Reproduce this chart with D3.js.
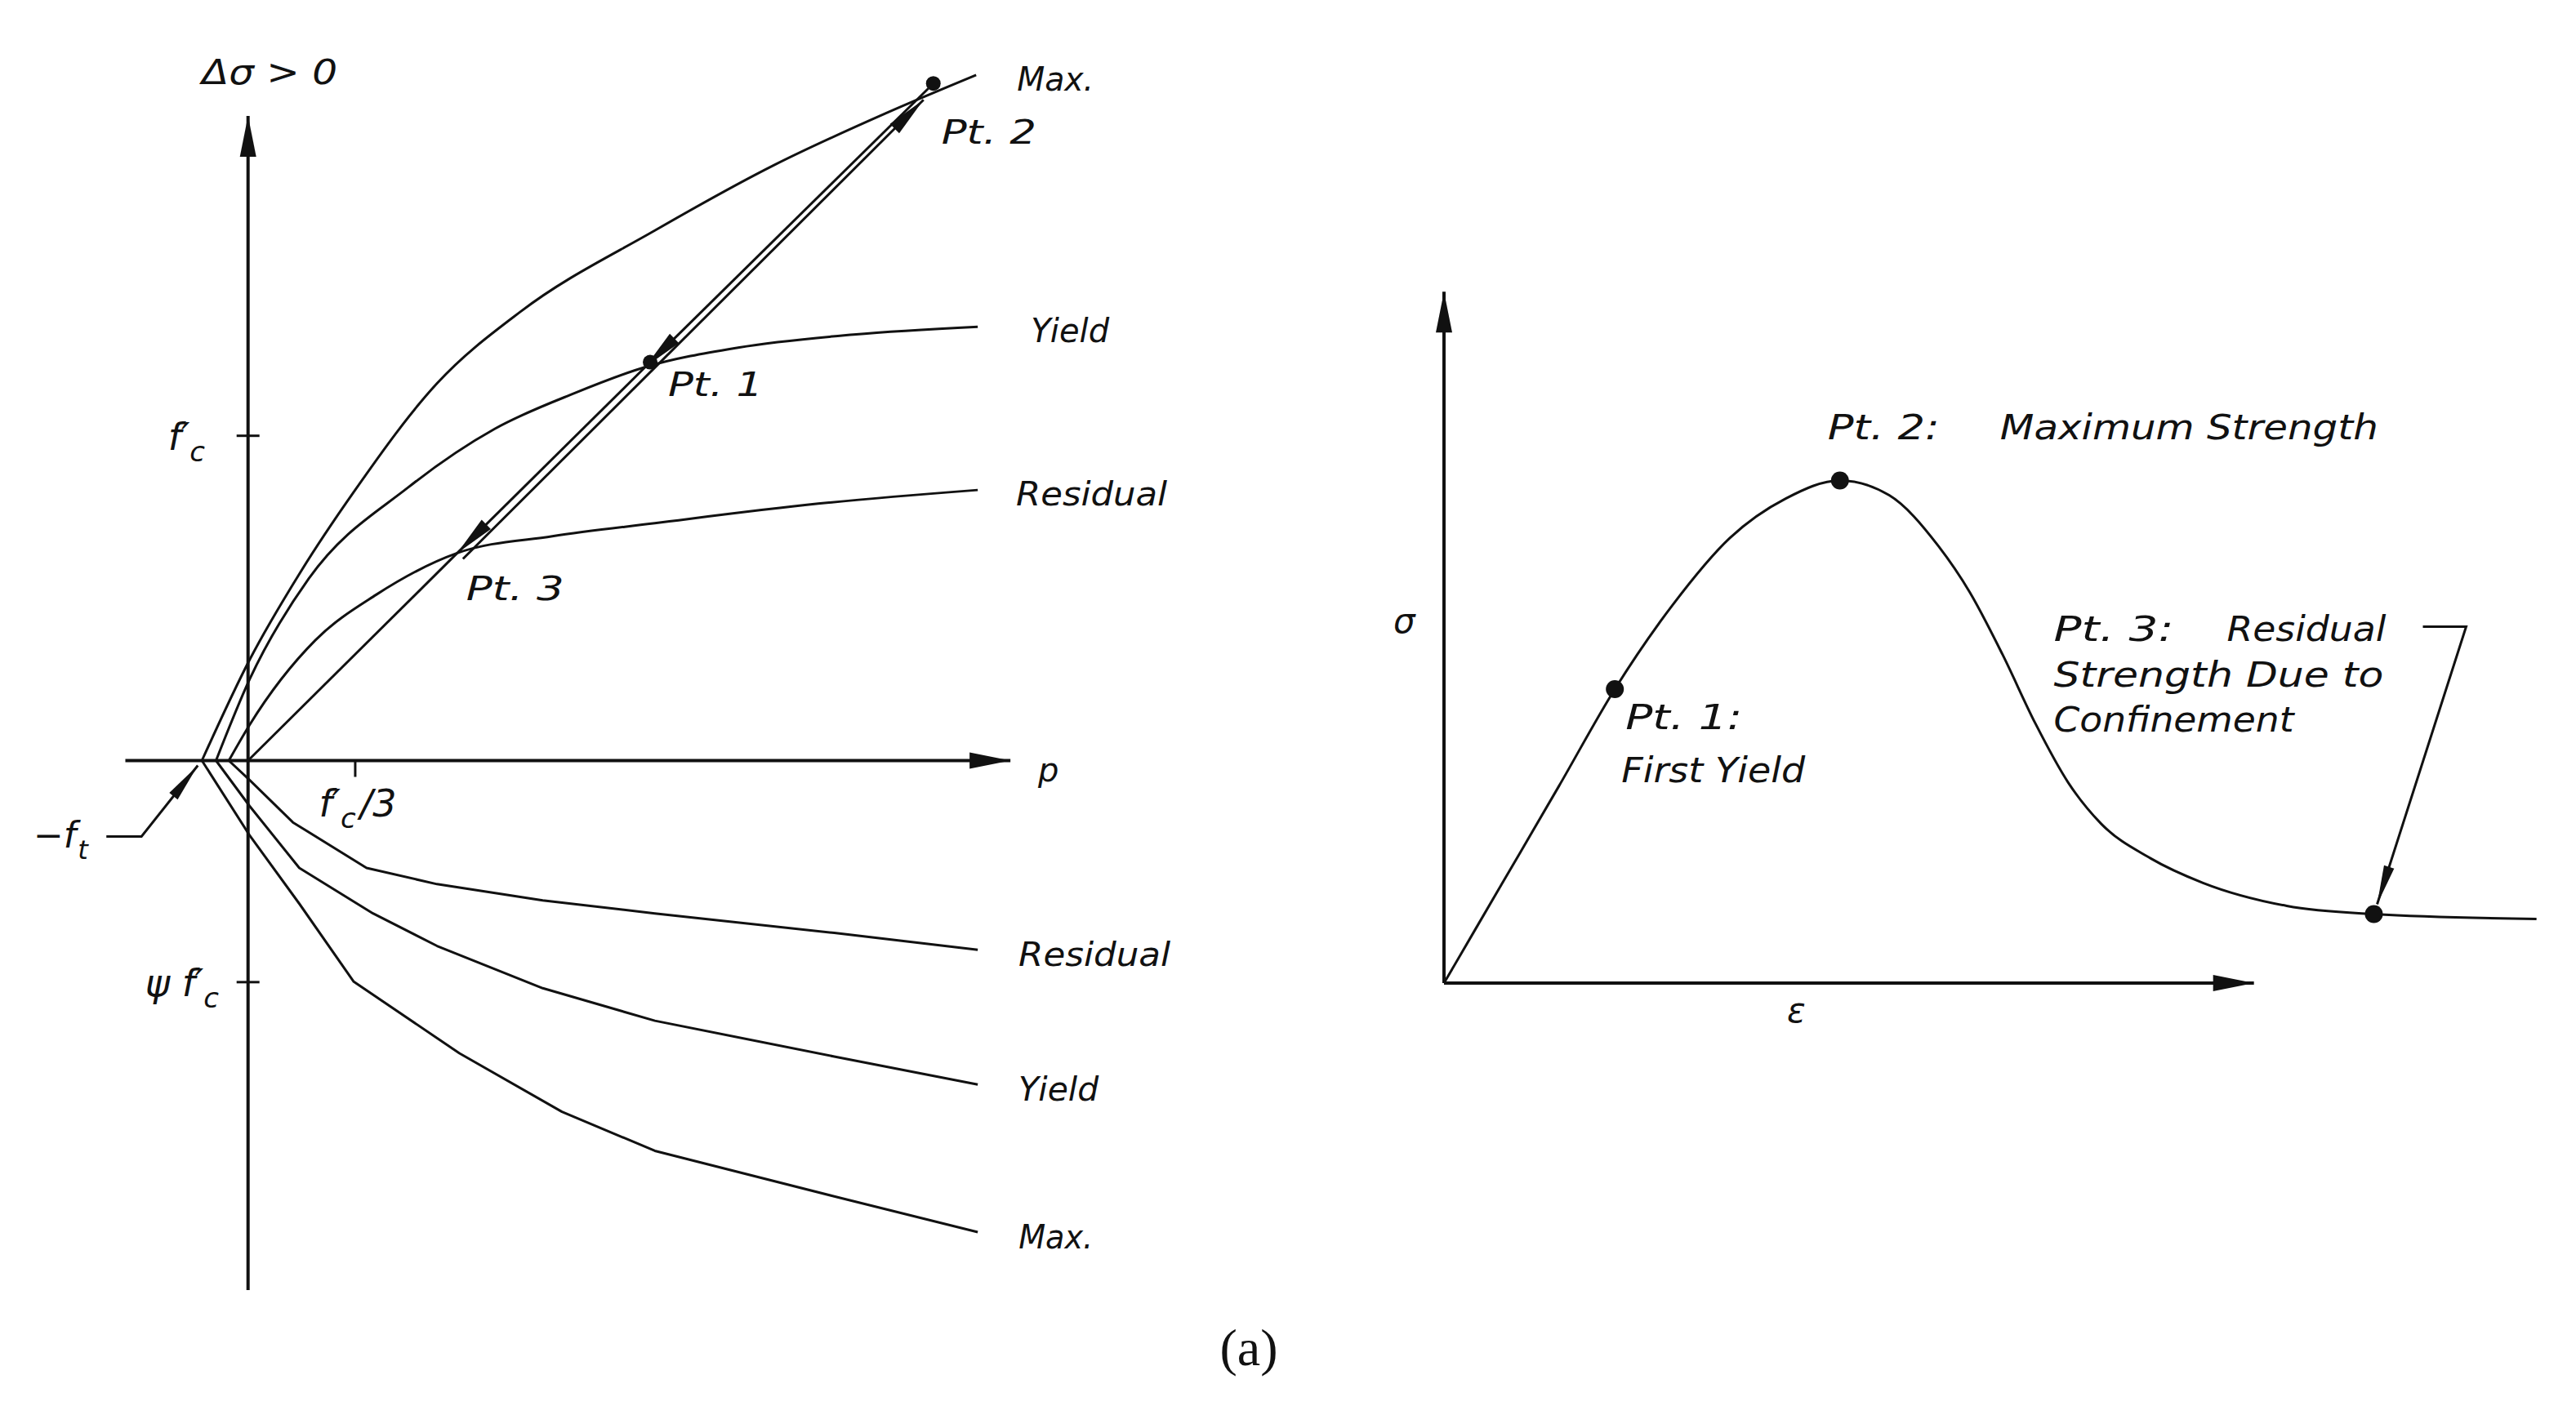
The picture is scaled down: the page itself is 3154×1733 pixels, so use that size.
<!DOCTYPE html>
<html>
<head>
<meta charset="utf-8">
<script src="https://cdn.jsdelivr.net/npm/d3@7/dist/d3.min.js"></script>
<style>
  html, body { margin: 0; padding: 0; background: #fff; }
  svg { display: block; }
  .rotulo { font-family: 'DejaVu Sans', sans-serif; font-style: oblique; fill: #111; }
  .curva { fill: none; stroke: #111; stroke-width: 3; stroke-linejoin: round; }
</style>
</head>
<body>
<svg id="figura"></svg>
<script>
// ---------- gráfico esquerdo: meridianos (unidades de f'c) ----------
// meridiano de compressão (acima do eixo p)
const maxCompP = [-0.144, 0.005, 0.164, 0.333, 0.59, 0.85, 1.27, 1.64, 1.99, 2.273];
const maxCompQ = [0, 0.31, 0.58, 0.83, 1.16, 1.38, 1.63, 1.83, 1.99, 2.108];
const yieldCompP = [-0.10, 0.005, 0.19, 0.50, 0.77, 1.02, 1.24, 1.53, 1.89, 2.278];
const yieldCompQ = [0, 0.25, 0.56, 0.84, 1.02, 1.13, 1.21, 1.27, 1.31, 1.334];
const resCompP = [-0.06, 0.005, 0.21, 0.40, 0.653, 0.95, 1.27, 1.78, 2.278];
const resCompQ = [0, 0.11, 0.37, 0.51, 0.638, 0.69, 0.73, 0.79, 0.832];
// meridiano de tração (abaixo do eixo p)
const maxTensP = [-0.144, 0.005, 0.16, 0.33, 0.66, 0.98, 1.27, 1.83, 2.278];
const maxTensQ = [0, -0.23, -0.44, -0.68, -0.90, -1.08, -1.20, -1.34, -1.45];
const yieldTensP = [-0.10, 0.005, 0.16, 0.39, 0.59, 0.92, 1.27, 1.83, 2.278];
const yieldTensQ = [0, -0.14, -0.33, -0.47, -0.57, -0.70, -0.80, -0.91, -0.996];
const resTensP = [-0.06, 0.005, 0.14, 0.37, 0.59, 0.92, 1.27, 1.83, 2.278];
const resTensQ = [0, -0.06, -0.19, -0.33, -0.38, -0.43, -0.47, -0.53, -0.582];
const curveNames = ['Max.', 'Yield', 'Residual'];

// pontos do caminho de carregamento
const pontoNomes = ['Pt. 1', 'Pt. 2', 'Pt. 3'];
const pontoP = [1.24, 2.124, 0.653];
const pontoQ = [1.21, 2.067, 0.638];

// marcas dos eixos
const qTicks = [1, -0.68];
const pTicks = [1 / 3];
const ftValue = -0.144;

// ---------- gráfico direito: tensão x deformação ----------
const epsVals = [0, 0.35, 0.70, 1.04, 1.39, 1.74, 2.08, 2.41, 2.71, 3.01, 3.20, 3.40, 3.60, 3.80, 4.00, 4.30, 4.62, 5.13, 5.66, 6.65];
const sigmaVals = [0, 0.60, 1.20, 1.79, 2.30, 2.71, 2.95, 3.06, 2.97, 2.66, 2.38, 2.00, 1.58, 1.22, 0.97, 0.76, 0.61, 0.47, 0.42, 0.39];
const keyEps = [1.04, 2.41, 5.66];
const keySigma = [1.79, 3.06, 0.42];

// ---------- desenho ----------
const largura = 3154, altura = 1733;
const svg = d3.select('#figura').attr('width', largura).attr('height', altura);

// marcadores de seta
const defs = svg.append('defs');
function seta(id, comp, larg) {
  defs.append('marker')
    .attr('id', id)
    .attr('markerUnits', 'userSpaceOnUse')
    .attr('viewBox', `${-comp - 5} ${-larg} ${comp + 10} ${larg * 2}`)
    .attr('markerWidth', comp + 10)
    .attr('markerHeight', larg * 2)
    .attr('refX', 0).attr('refY', 0)
    .attr('orient', 'auto')
    .append('path')
    .attr('d', `M0,0L${-comp},${-larg / 2}L${-comp},${larg / 2}Z`)
    .attr('fill', '#111');
}
seta('setaEixo', 50, 20);
seta('setaPequena', 50, 16);
seta('setaFina', 48, 13);

// escalas do gráfico esquerdo
const xE = d3.scaleLinear().domain([0, 1]).range([303.7, 695.9]);
const yE = d3.scaleLinear().domain([0, 1]).range([931.5, 533.2]);

const esq = svg.append('g');

// eixos (linhas com seta)
esq.append('line')
  .attr('x1', xE(0)).attr('y1', yE(-1.628))
  .attr('x2', xE(0)).attr('y2', yE(1.982))
  .attr('stroke', '#111').attr('stroke-width', 4)
  .attr('marker-end', 'url(#setaEixo)');
esq.append('line')
  .attr('x1', xE(-0.383)).attr('y1', yE(0))
  .attr('x2', xE(2.38)).attr('y2', yE(0))
  .attr('stroke', '#111').attr('stroke-width', 4)
  .attr('marker-end', 'url(#setaEixo)');

// marcas dos eixos com d3.axis
esq.append('g')
  .attr('transform', `translate(${xE(0)},0)`)
  .call(d3.axisLeft(yE).tickValues(qTicks).tickSize(14).tickFormat(''))
  .call(g => g.select('.domain').remove())
  .call(g => g.selectAll('.tick line').attr('x1', 14).attr('stroke', '#111').attr('stroke-width', 3));
esq.append('g')
  .attr('transform', `translate(0,${yE(0)})`)
  .call(d3.axisBottom(xE).tickValues(pTicks).tickSize(20).tickFormat(''))
  .call(g => g.select('.domain').remove())
  .call(g => g.selectAll('.tick line').attr('stroke', '#111').attr('stroke-width', 3));

// curvas
const linhaE = d3.line().x(d => xE(d[0])).y(d => yE(d[1]));
const compSeries = [[maxCompP, maxCompQ], [yieldCompP, yieldCompQ], [resCompP, resCompQ]];
const tensSeries = [[maxTensP, maxTensQ], [yieldTensP, yieldTensQ], [resTensP, resTensQ]];

function desenhaSerie(serie, curva) {
  const pts = serie[0].map((p, i) => [p, serie[1][i]]);
  esq.append('path').classed('curva', true)
    .attr('d', linhaE.curve(curva)(pts));
  return pts[pts.length - 1];
}
const fimComp = compSeries.map(s => desenhaSerie(s, d3.curveMonotoneX));
const fimTens = tensSeries.map(s => desenhaSerie(s, d3.curveLinear));

// rótulos das curvas
const larguraComp = [94, 96, 185];
const larguraTens = [91, 98, 186];
const dxComp = [50, 65, 47];
fimComp.forEach((d, i) => {
  esq.append('text').classed('rotulo', true)
    .attr('x', xE(d[0]) + dxComp[i]).attr('y', yE(d[1]) + 19)
    .attr('font-size', 40)
    .attr('textLength', larguraComp[i]).attr('lengthAdjust', 'spacingAndGlyphs')
    .text(curveNames[i]);
});
fimTens.forEach((d, i) => {
  esq.append('text').classed('rotulo', true)
    .attr('x', xE(d[0]) + 50).attr('y', yE(d[1]) + 20)
    .attr('font-size', 40)
    .attr('textLength', larguraTens[i]).attr('lengthAdjust', 'spacingAndGlyphs')
    .text(curveNames[i]);
});

// caminho de carregamento: origem -> Pt.3 -> Pt.1 -> Pt.2
const pt = pontoP.map((p, i) => [xE(p), yE(pontoQ[i])]);
const origem = [xE(0), yE(0)];
function segmento(a, b, marcador, larguraTraco) {
  const s = esq.append('line')
    .attr('x1', a[0]).attr('y1', a[1]).attr('x2', b[0]).attr('y2', b[1])
    .attr('stroke', '#111').attr('stroke-width', larguraTraco || 3);
  if (marcador) s.attr('marker-end', `url(#${marcador})`);
}
segmento(origem, pt[2]);
segmento(pt[1], pt[0], 'setaPequena');
segmento(pt[0], pt[2], 'setaPequena');
// linha paralela (deslocada) com seta para cima
const dir = [pt[1][0] - pt[2][0], pt[1][1] - pt[2][1]];
const nDir = Math.hypot(dir[0], dir[1]);
const off = [Math.abs(dir[1] / nDir) * 10, Math.abs(dir[0] / nDir) * 10];
const desloc = p => [p[0] + off[0], p[1] + off[1]];
segmento(desloc(pt[2]), [pt[1][0] - 6, pt[1][1] + 14], 'setaPequena');

// pontos 1 e 2
esq.selectAll('.ponto')
  .data([pt[0], pt[1]])
  .enter()
  .append('circle')
  .classed('ponto', true)
  .attr('cx', d => d[0] + 6).attr('cy', d => d[1] - 6)
  .attr('r', 9).attr('fill', '#111');

// rótulos dos pontos
const ptOffX = [28, 16, 11];
const ptOffY = [35, 68, 58];
const ptLarg = [116, 116, 120];
pt.forEach((d, i) => {
  esq.append('text').classed('rotulo', true)
    .attr('x', d[0] + ptOffX[i]).attr('y', d[1] + ptOffY[i])
    .attr('font-size', 40)
    .attr('textLength', ptLarg[i]).attr('lengthAdjust', 'spacingAndGlyphs')
    .text(pontoNomes[i]);
});

// títulos dos eixos
esq.append('text').classed('rotulo', true)
  .attr('x', 247).attr('y', 103).attr('font-size', 42)
  .attr('textLength', 166).attr('lengthAdjust', 'spacingAndGlyphs')
  .text('Δσ > 0');
esq.append('text').classed('rotulo', true)
  .attr('x', 1271).attr('y', 957).attr('font-size', 40)
  .text('p');

// rótulos das marcas: f'c e ψ f'c
function rotuloFc(g, x, y, prefixo, sufixo) {
  const t = g.append('text').classed('rotulo', true)
    .attr('x', x).attr('y', y).attr('font-size', 46);
  t.append('tspan').text(prefixo + 'f′');
  t.append('tspan').attr('font-size', 34).attr('dx', 0).attr('dy', 14).text('c');
  if (sufixo) t.append('tspan').attr('dy', -14).attr('dx', 5).text(sufixo);
  return t;
}
rotuloFc(esq, xE(0) - 98, yE(qTicks[0]) + 18, '', '');
rotuloFc(esq, xE(0) - 126, yE(qTicks[1]) + 18, 'ψ ', '');
rotuloFc(esq, xE(pTicks[0]) - 44, yE(0) + 68, '', '/3');

// −f_t com linha de chamada
const ftX = xE(ftValue), ftY = yE(0);
esq.append('path')
  .attr('d', d3.line()([[ftX - 117, ftY + 93], [ftX - 74, ftY + 93], [ftX - 5, ftY + 6]]))
  .attr('fill', 'none').attr('stroke', '#111').attr('stroke-width', 3)
  .attr('marker-end', 'url(#setaFina)');
const ft = esq.append('text').classed('rotulo', true)
  .attr('x', 41).attr('y', ftY + 106).attr('font-size', 44);
ft.append('tspan').text('−f');
ft.append('tspan').attr('font-size', 32).attr('dx', 2).attr('dy', 14).text('t');

// ---------- gráfico direito ----------
const xD = d3.scaleLinear().domain([0, 1]).range([1768, 1969.15]);
const yD = d3.scaleLinear().domain([0, 1]).range([1204, 1002.85]);
const dir2 = svg.append('g');

dir2.append('line')
  .attr('x1', xD(0)).attr('y1', yD(0)).attr('x2', xD(0)).attr('y2', yD(4.21))
  .attr('stroke', '#111').attr('stroke-width', 4)
  .attr('marker-end', 'url(#setaEixo)');
dir2.append('line')
  .attr('x1', xD(0)).attr('y1', yD(0)).attr('x2', xD(4.93)).attr('y2', yD(0))
  .attr('stroke', '#111').attr('stroke-width', 4)
  .attr('marker-end', 'url(#setaEixo)');

const linhaD = d3.line().x(d => xD(d[0])).y(d => yD(d[1])).curve(d3.curveMonotoneX);
dir2.append('path').classed('curva', true)
  .attr('stroke-width', 3.5)
  .attr('d', linhaD(epsVals.map((e, i) => [e, sigmaVals[i]])));

dir2.selectAll('.pontoD')
  .data(keyEps.map((e, i) => [e, keySigma[i]]))
  .enter()
  .append('circle')
  .classed('pontoD', true)
  .attr('cx', d => xD(d[0])).attr('cy', d => yD(d[1]))
  .attr('r', 11).attr('fill', '#111');

// rótulos do gráfico direito
function rotuloD(x, y, txt, larg) {
  const t = dir2.append('text').classed('rotulo', true)
    .attr('x', x).attr('y', y).attr('font-size', 42).text(txt);
  if (larg) t.attr('textLength', larg).attr('lengthAdjust', 'spacingAndGlyphs');
  return t;
}
const p1 = [xD(keyEps[0]), yD(keySigma[0])];
const p2 = [xD(keyEps[1]), yD(keySigma[1])];
const p3 = [xD(keyEps[2]), yD(keySigma[2])];
rotuloD(p1[0] + 13, p1[1] + 49, 'Pt. 1:', 143);
rotuloD(p1[0] + 8, p1[1] + 114, 'First Yield', 225);
rotuloD(p2[0] - 15, p2[1] - 50, 'Pt. 2:', 137);
rotuloD(p2[0] + 196, p2[1] - 50, 'Maximum Strength', 463);
rotuloD(p3[0] - 392, p3[1] - 335, 'Pt. 3:', 147);
rotuloD(p3[0] - 180, p3[1] - 335, 'Residual', 195);
rotuloD(p3[0] - 392, p3[1] - 279, 'Strength Due to', 404);
rotuloD(p3[0] - 392, p3[1] - 224, 'Confinement', 294);
rotuloD(1706, 775, 'σ');
rotuloD(2188, 1252, 'ε');

// linha de chamada do Pt. 3
dir2.append('path')
  .attr('d', d3.line()([[p3[0] + 60, p3[1] - 352], [p3[0] + 113, p3[1] - 352], [p3[0] + 4, p3[1] - 12]]))
  .attr('fill', 'none').attr('stroke', '#111').attr('stroke-width', 3)
  .attr('marker-end', 'url(#setaFina)');

// legenda (a)
svg.append('text')
  .attr('x', 1529).attr('y', 1672)
  .attr('text-anchor', 'middle')
  .attr('font-family', "'Liberation Serif', 'DejaVu Serif', serif")
  .attr('font-size', 64)
  .attr('fill', '#111')
  .text('(a)');
</script>
</body>
</html>
